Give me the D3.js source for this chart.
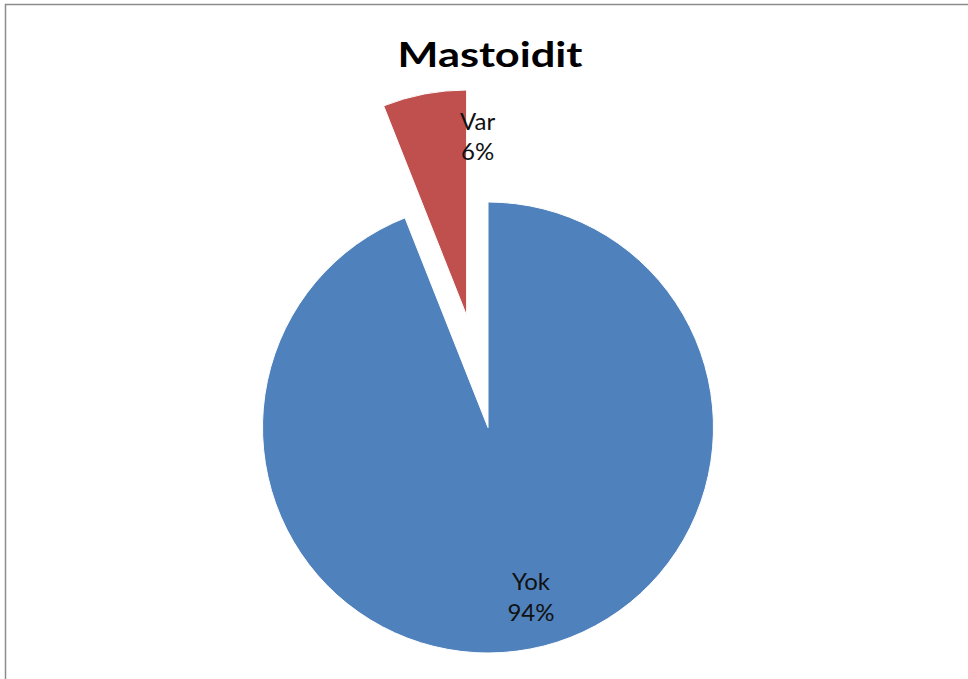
<!DOCTYPE html>
<html>
<head>
<meta charset="utf-8">
<script src="https://cdn.jsdelivr.net/npm/d3@7"></script>
<style>
  body { margin: 0; background: #fff; }
  svg { display: block; }
</style>
</head>
<body>
<div id="chart"></div>
<script>
// Data
var categories = ["Yok", "Var"];
var values = [94, 6];
var colors = ["#4F81BD", "#C0504D"];
var chartTitle = "Mastoidit";

var width = 968, height = 679;
var cx = 488, cy = 427.5, radius = 225.5;
var explodeDist = 114;

var svg = d3.select("#chart").append("svg")
    .attr("width", width)
    .attr("height", height);

// Outer frame
svg.append("rect")
    .attr("x", 5.5)
    .attr("y", 4.5)
    .attr("width", width)
    .attr("height", height)
    .attr("fill", "#fff")
    .attr("stroke", "#8c8c8c")
    .attr("stroke-width", 1.5);

// Title
svg.append("text")
    .attr("x", 490)
    .attr("y", 67)
    .attr("text-anchor", "middle")
    .style("font-family", "Lato, 'Open Sans', sans-serif")
    .style("font-weight", "bold")
    .style("font-size", "35px")
    .attr("textLength", 185)
    .attr("lengthAdjust", "spacingAndGlyphs")
    .text(chartTitle);

var pie = d3.pie().sort(null).value(d => d.value);
var data = pie(categories.map((c, i) => ({ name: c, value: values[i] })));
var total = d3.sum(values);

var arc = d3.arc().innerRadius(0).outerRadius(radius);
var labelArc = d3.arc().innerRadius(radius * 0.78).outerRadius(radius * 0.78);

// exploded slice = the smallest one
function offset(d, i) {
    if (i === 0) return [0, 0];
    var a = (d.startAngle + d.endAngle) / 2;
    return [Math.sin(a) * explodeDist, -Math.cos(a) * explodeDist];
}

var g = svg.append("g").attr("transform", "translate(" + [cx, cy] + ")");

var slices = g.selectAll(".slice")
    .data(data)
    .enter()
    .append("g")
    .attr("class", "slice")
    .attr("transform", (d, i) => "translate(" + offset(d, i) + ")");

slices.append("path")
    .attr("d", arc)
    .attr("fill", (d, i) => colors[i])
    .attr("stroke", "#fff")
    .attr("stroke-width", 1);

// Labels: Excel pulls the small slice label toward the right
var labelShift = [[10, 1], [44, -2]];
var labels = slices.append("text")
    .attr("text-anchor", "middle")
    .style("font-family", "Lato, 'Open Sans', sans-serif")
    .style("font-size", "24px")
    .attr("fill", "#111")
    .attr("transform", (d, i) => {
        var c = labelArc.centroid(d);
        return "translate(" + [c[0] + labelShift[i][0], c[1] + labelShift[i][1]] + ")";
    });

labels.append("tspan")
    .attr("x", 0)
    .attr("dy", "-0.45em")
    .text(d => d.data.name);
labels.append("tspan")
    .attr("x", 0)
    .attr("dy", "1.27em")
    .text(d => Math.round(d.data.value / total * 100) + "%");
</script>
</body>
</html>
